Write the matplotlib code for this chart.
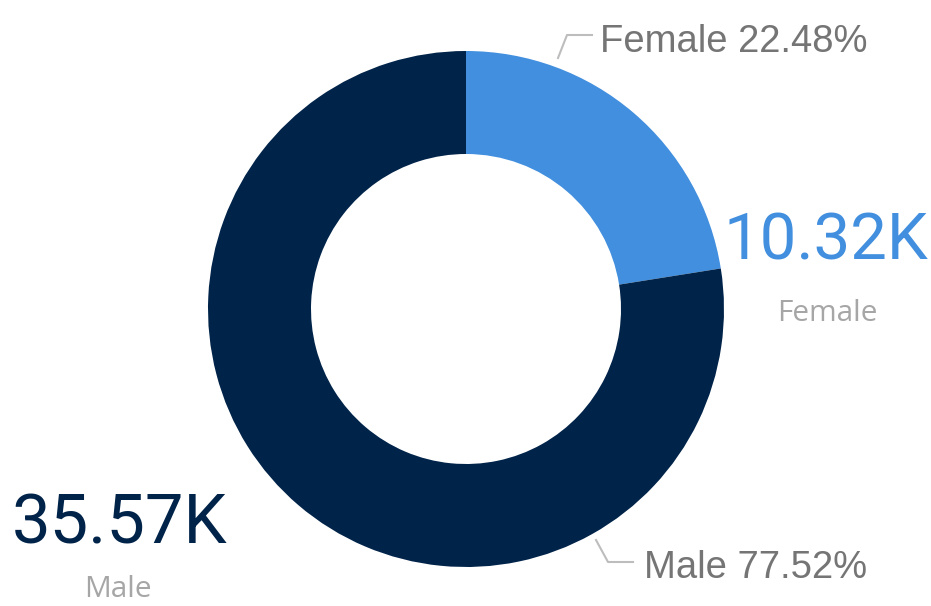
import matplotlib
matplotlib.use("Agg")
import matplotlib.pyplot as plt

categories = ["Female", "Male"]
values = [10.32, 35.57]          # thousands
percent_labels = ["22.48%", "77.52%"]
value_labels = ["10.32K", "35.57K"]
colors = ["#418FDE", "#002349"]

W, H = 931, 606
fig = plt.figure(figsize=(W / 100, H / 100), dpi=100)
ax = fig.add_axes([0, 0, 1, 1])

def Y(yp):
    return H - yp

cx, cy, R = 466, 309, 258
ax.pie(values, colors=colors, startangle=90, counterclock=False,
       center=(cx, Y(cy)), radius=R, frame=True,
       wedgeprops=dict(width=103, linewidth=0))
ax.set_xlim(0, W)
ax.set_ylim(0, H)
ax.set_aspect("equal")
ax.axis("off")

lead = "#BDBDBD"
lab = "#757575"
# Female leader + label
ax.plot([558, 567, 592], [Y(58), Y(35), Y(35)], color=lead, lw=1.5)
ax.text(600, Y(52), f"{categories[0]} {percent_labels[0]}", color=lab,
        fontsize=27.5, family="Liberation Sans", ha="left", va="baseline")
# Male leader + label
ax.plot([596, 608, 633], [Y(540), Y(562), Y(562)], color=lead, lw=1.5)
ax.text(644, Y(578), f"{categories[1]} {percent_labels[1]}", color=lab,
        fontsize=27.5, family="Liberation Sans", ha="left", va="baseline")

# KPI callouts
ax.text(928, Y(260), value_labels[0], color=colors[0], fontsize=47,
        family="Roboto", ha="right", va="baseline")
ax.text(827, Y(321), categories[0], color="#A6A6A6", fontsize=21.5,
        family="Open Sans", ha="center", va="baseline")
ax.text(12, Y(544), value_labels[1], color=colors[1], fontsize=49.5,
        family="Roboto", ha="left", va="baseline")
ax.text(118, Y(597), categories[1], color="#A6A6A6", fontsize=21.5,
        family="Open Sans", ha="center", va="baseline")

fig.savefig("out.png", dpi=100)
